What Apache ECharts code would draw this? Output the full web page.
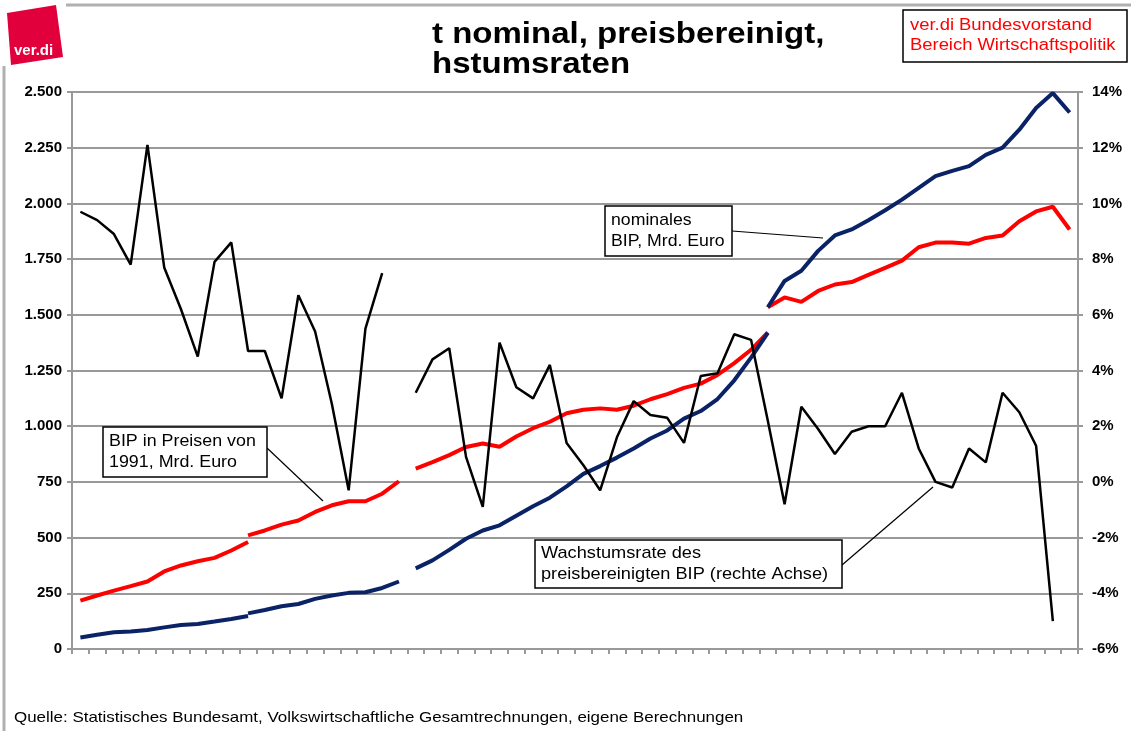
<!DOCTYPE html>
<html>
<head>
<meta charset="utf-8">
<script src="https://cdn.jsdelivr.net/npm/echarts/dist/echarts.min.js"></script>
<style>
html, body { margin: 0; padding: 0; background: #fff; }
#chart { width: 1131px; height: 731px; }
</style>
</head>
<body>
<div id="chart"></div>
<script>
// Jahre (x-Achse ohne Beschriftung)
var years = [1950, 1951, 1952, 1953, 1954, 1955, 1956, 1957, 1958, 1959,
  1960, 1961, 1962, 1963, 1964, 1965, 1966, 1967, 1968, 1969,
  1970, 1971, 1972, 1973, 1974, 1975, 1976, 1977, 1978, 1979,
  1980, 1981, 1982, 1983, 1984, 1985, 1986, 1987, 1988, 1989,
  1990, 1991, 1992, 1993, 1994, 1995, 1996, 1997, 1998, 1999,
  2000, 2001, 2002, 2003, 2004, 2005, 2006, 2007, 2008, 2009];

// BIP in Preisen von 1991, Mrd. Euro (vier Abschnitte)
var realA = [217, 240, 262, 282, 303, 348, 375, 394, 409, 442, 480];            // ab 1950
var realB = [510, 532, 558, 577, 615, 645, 663, 663, 697, 753];                 // ab 1960
var realC = [810, 839, 870, 907, 922, 908, 954, 991, 1020, 1058, 1074,
  1080, 1074, 1092, 1121, 1144, 1172, 1191, 1230, 1283, 1343, 1421];           // ab 1970
var realD = [1534, 1578, 1558, 1607, 1636, 1647, 1679, 1711, 1743, 1803,
  1824, 1824, 1819, 1845, 1856, 1920, 1964, 1985, 1883];                       // ab 1991

// nominales BIP, Mrd. Euro
var nomA = [52, 64, 75, 79, 85, 97, 108, 112, 123, 135, 148];
var nomB = [160, 175, 192, 202, 225, 240, 252, 255, 274, 303];
var nomC = [362, 398, 445, 495, 532, 555, 598, 641, 679, 730, 786,
  821, 859, 900, 945, 981, 1034, 1068, 1122, 1206, 1308, 1419];
var nomD = [1534, 1652, 1698, 1787, 1856, 1883, 1924, 1969, 2017, 2070,
  2122, 2146, 2167, 2218, 2250, 2331, 2428, 2495, 2408];

// Wachstumsrate des preisbereinigten BIP, % (rechte Achse)
var growthA = [9.7, 9.4, 8.9, 7.8, 12.1, 7.7, 6.2, 4.5, 7.9, 8.6,
  4.7, 4.7, 3.0, 6.7, 5.4, 2.8, -0.3, 5.5, 7.5];
var growthB = [3.2, 4.4, 4.8, 0.9, -0.9, 5.0, 3.4, 3.0, 4.2, 1.4,
  0.6, -0.3, 1.6, 2.9, 2.4, 2.3, 1.4, 3.8, 3.9, 5.3,
  5.1, 2.2, -0.8, 2.7, 1.9, 1.0, 1.8, 2.0, 2.0, 3.2,
  1.2, 0.0, -0.2, 1.2, 0.7, 3.2, 2.5, 1.3, -5.0];

var gridColor = '#999999';
var font = '"Liberation Sans", Arial, sans-serif';

// Abschnitt auf die volle Jahresreihe legen
function seg(start, vals) {
  var out = [];
  for (var i = 0; i < years.length; i++) {
    var k = i - start;
    out.push(k >= 0 && k < vals.length ? vals[k] : null);
  }
  return out;
}

function line(data, color, width, axis, z) {
  return {
    type: 'line',
    data: data,
    yAxisIndex: axis,
    symbol: 'none',
    connectNulls: false,
    silent: true,
    z: z,
    lineStyle: { color: color, width: width },
    itemStyle: { color: color }
  };
}

function thousands(v) {
  if (v < 1000) return String(v);
  var r = String(v % 1000);
  while (r.length < 3) r = '0' + r;
  return Math.floor(v / 1000) + '.' + r;
}

function box(x, y, w, h, txt, sx) {
  return [
    { type: 'rect', z: 100, shape: { x: x, y: y, width: w, height: h },
      style: { fill: '#fff', stroke: '#000', lineWidth: 1.5 } },
    { type: 'text', z: 101, x: x + 6, y: y + h / 2, scaleX: sx,
      style: { text: txt, fill: '#000', font: '17px ' + font, lineHeight: 21, verticalAlign: 'middle' } }
  ];
}

function connector(x1, y1, x2, y2) {
  return { type: 'line', z: 100, shape: { x1: x1, y1: y1, x2: x2, y2: y2 },
    style: { stroke: '#000', lineWidth: 1.2 } };
}

var myChart = echarts.init(document.getElementById('chart'), null, { renderer: 'canvas' });

var graphics = [
  // Rahmen
  { type: 'line', shape: { x1: 66, y1: 5, x2: 1131, y2: 5 }, style: { stroke: '#b0b0b0', lineWidth: 3 } },
  { type: 'line', shape: { x1: 4, y1: 66, x2: 4, y2: 731 }, style: { stroke: '#b0b0b0', lineWidth: 3 } },
  // ver.di Logo
  { type: 'polygon', shape: { points: [[7, 13], [56, 5], [63, 57], [11, 65]] }, style: { fill: '#e2003c' } },
  { type: 'text', x: 14, y: 51, style: { text: 'ver.di', fill: '#fff', font: 'bold 15px ' + font, verticalAlign: 'middle' } },
  // Titel (links abgeschnitten)
  { type: 'text', x: 432, y: 35, scaleX: 1.1, style: { text: 't nominal, preisbereinigt,', fill: '#000', font: 'bold 30px ' + font, verticalAlign: 'middle' } },
  { type: 'text', x: 432, y: 65, scaleX: 1.1, style: { text: 'hstumsraten', fill: '#000', font: 'bold 30px ' + font, verticalAlign: 'middle' } },
  // Absender
  { type: 'rect', shape: { x: 903, y: 10, width: 224, height: 52 }, style: { fill: '#fff', stroke: '#000', lineWidth: 1.5 } },
  { type: 'text', x: 910, y: 36, scaleX: 1.15,
    style: { text: 'ver.di Bundesvorstand\nBereich Wirtschaftspolitik', fill: '#ff0000', font: '16px ' + font, lineHeight: 20, verticalAlign: 'middle' } },
  // Quelle
  { type: 'text', x: 14, y: 718, scaleX: 1.13,
    style: { text: 'Quelle: Statistisches Bundesamt, Volkswirtschaftliche Gesamtrechnungen, eigene Berechnungen', fill: '#000', font: '15px ' + font, verticalAlign: 'middle' } },
  connector(267, 448, 323, 501),
  connector(732, 231, 823, 238),
  connector(842, 565, 933, 487)
];
graphics = graphics
  .concat(box(103, 427, 164, 50, 'BIP in Preisen von\n1991, Mrd. Euro', 1.05))
  .concat(box(605, 206, 127, 50, 'nominales\nBIP, Mrd. Euro', 1.04))
  .concat(box(535, 540, 307, 48, 'Wachstumsrate des\npreisbereinigten BIP (rechte Achse)', 1.07));

var option = {
  animation: false,
  backgroundColor: '#fff',
  grid: { left: 72, right: 53, top: 92, bottom: 82, outerBoundsMode: 'none' },
  xAxis: {
    type: 'category',
    data: years,
    boundaryGap: true,
    axisLine: { lineStyle: { color: gridColor, width: 2 } },
    axisTick: { show: true, interval: 0, length: 5, lineStyle: { color: gridColor, width: 2 } },
    axisLabel: { show: false },
    splitLine: { show: false }
  },
  yAxis: [
    {
      type: 'value', position: 'left', min: 0, max: 2500, interval: 250,
      axisLine: { show: true, lineStyle: { color: gridColor, width: 2 } },
      axisTick: { show: true, length: 5, lineStyle: { color: gridColor, width: 2 } },
      axisLabel: { color: '#000', fontWeight: 'bold', fontSize: 15, fontFamily: font, margin: 10, formatter: thousands },
      splitLine: { show: true, lineStyle: { color: gridColor, width: 2 } }
    },
    {
      type: 'value', position: 'right', min: -6, max: 14, interval: 2,
      axisLine: { show: true, lineStyle: { color: gridColor, width: 2 } },
      axisTick: { show: true, length: 5, lineStyle: { color: gridColor, width: 2 } },
      axisLabel: { color: '#000', fontWeight: 'bold', fontSize: 15, fontFamily: font, margin: 14, formatter: '{value}%' },
      splitLine: { show: false }
    }
  ],
  series: [
    line(seg(0, realA), '#ff0000', 4, 0, 2),
    line(seg(10, realB), '#ff0000', 4, 0, 2),
    line(seg(20, realC), '#ff0000', 4, 0, 2),
    line(seg(41, realD), '#ff0000', 4, 0, 2),
    line(seg(0, nomA), '#0a2266', 4, 0, 3),
    line(seg(10, nomB), '#0a2266', 4, 0, 3),
    line(seg(20, nomC), '#0a2266', 4, 0, 3),
    line(seg(41, nomD), '#0a2266', 4, 0, 3),
    line(seg(0, growthA), '#000000', 2.5, 1, 4),
    line(seg(20, growthB), '#000000', 2.5, 1, 4)
  ],
  graphic: graphics
};
myChart.setOption(option);
</script>
</body>
</html>
